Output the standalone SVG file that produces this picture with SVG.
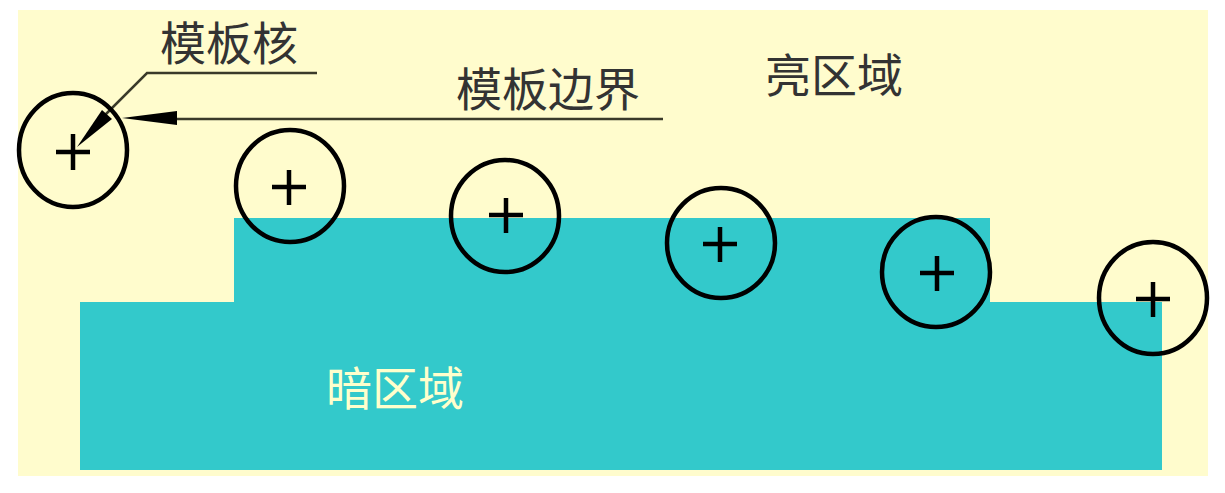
<svg xmlns="http://www.w3.org/2000/svg" width="1225" height="493" viewBox="0 0 1225 493">
<style>
.t{font-family:"Noto Sans CJK SC","Noto Sans",sans-serif;font-size:46px;fill:#333}
.d{font-family:"Noto Sans CJK SC","Noto Sans",sans-serif;font-size:46px;fill:#FFFFCC}
.c{fill:none;stroke:#000;stroke-width:4.5}
.p{stroke:#000;stroke-width:4.5;fill:none}
.l{stroke:#3a3a2a;stroke-width:2.5;fill:none}
</style>
<rect width="1225" height="493" fill="#fff"/>
<rect id="bright" x="18" y="10" width="1190" height="466" fill="#FFFCCD"/>
<path id="dark" d="M80,302 H234 V218 H990 V302 H1162 V470 H80 Z" fill="#33C9CB"/>
<text class="t" x="160" y="60">模板核</text>
<text class="t" x="456" y="106">模板边界</text>
<text class="t" x="765" y="92">亮区域</text>
<text class="d" x="326" y="405">暗区域</text>
<g id="connectors">
<path class="l" d="M317,73 H147 L100,120"/>
<path d="M77,147 L102,110 L112,119 Z" fill="#000"/>
<path class="l" d="M663,119 H175"/>
<path d="M122,118 L177,111 L177,125 Z" fill="#000"/>
</g>
<g id="t1"><ellipse class="c" cx="73" cy="150" rx="54" ry="57"/><path class="p" d="M56,152 H90 M73,134 V170"/></g>
<g id="t2"><ellipse class="c" cx="290" cy="186" rx="54" ry="56"/><path class="p" d="M272,187 H306 M289,170 V205"/></g>
<g id="t3"><ellipse class="c" cx="505" cy="216" rx="54" ry="56"/><path class="p" d="M489,215 H523 M506,198 V233"/></g>
<g id="t4"><ellipse class="c" cx="721" cy="243" rx="54" ry="55"/><path class="p" d="M703,244 H737 M720,227 V262"/></g>
<g id="t5"><ellipse class="c" cx="936" cy="272" rx="54" ry="55"/><path class="p" d="M920,273 H954 M937,256 V291"/></g>
<g id="t6"><ellipse class="c" cx="1153" cy="298" rx="54" ry="56"/><path class="p" d="M1136,299 H1170 M1153,282 V317"/></g>
</svg>
